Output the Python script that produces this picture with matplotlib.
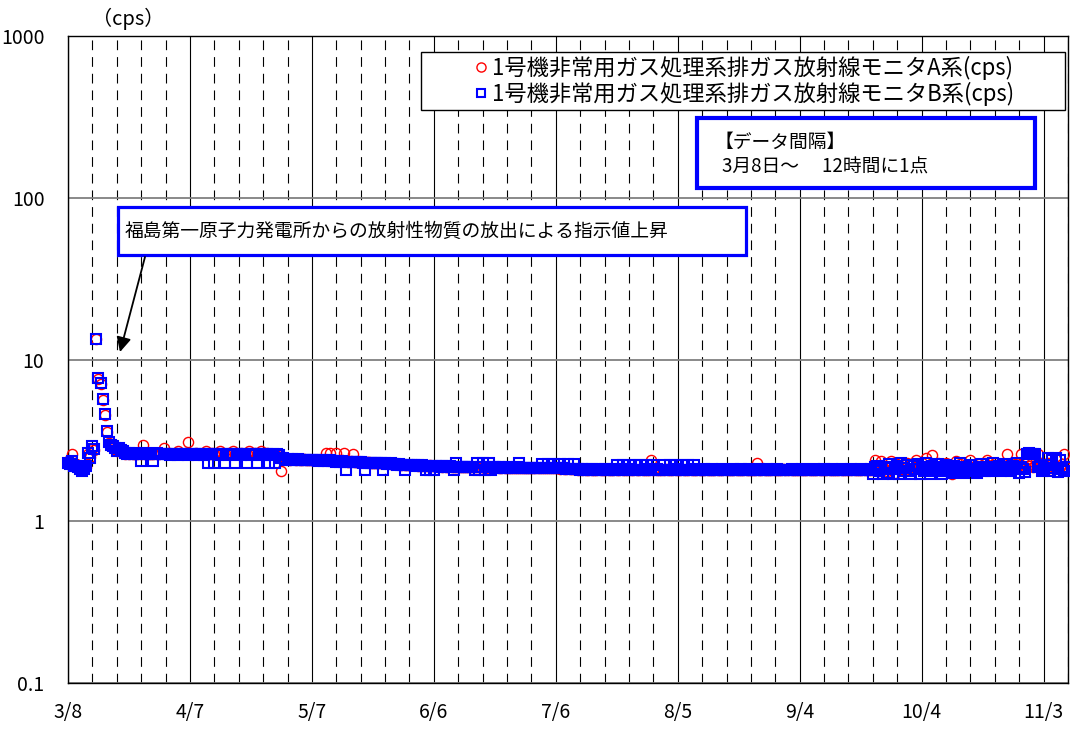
import datetime as dt
import matplotlib
matplotlib.use("Agg")
import matplotlib.pyplot as plt
import matplotlib.dates as mdates
from matplotlib.patches import Rectangle
from matplotlib.ticker import FixedLocator, FixedFormatter, NullLocator

plt.rcParams["font.family"] = ["Noto Sans CJK JP", "DejaVu Sans"]
plt.rcParams["lines.scale_dashes"] = False

# ---- data: 12-hour readings starting 2011-03-08 00:00 (cps) ----
start = dt.datetime(2011, 3, 8)

a_mar = [2.35, 2.30, 2.60, 2.30, 2.25, 2.20, 2.15, 2.15, 2.10, 2.15,
         2.60, 2.50, 2.80, 2.75, 13.3, 7.60, 7.10, 5.60, 4.55, 3.55,
         3.05, 2.90, 2.85, 2.80, 2.70, 2.80, 2.70, 2.65, 2.60, 2.65,
         2.60, 2.65, 2.60, 2.60, 2.60, 2.65, 2.60, 2.95, 2.60, 2.65,
         2.60, 2.60, 2.60, 2.65, 2.60, 2.60, 2.65, 2.85]
b_mar = [2.30, 2.25, 2.35, 2.20, 2.20, 2.15, 2.10, 2.05, 2.10, 2.20,
         2.65, 2.45, 2.90, 2.80, 13.4, 7.70, 7.20, 5.70, 4.60, 3.60,
         3.10, 2.95, 2.90, 2.85, 2.70, 2.85, 2.75, 2.70, 2.65, 2.60,
         2.65, 2.60, 2.60, 2.65, 2.60, 2.60, 2.35, 2.60, 2.65, 2.60,
         2.60, 2.60, 2.35, 2.60, 2.65, 2.60, 2.60, 2.60]

a_apr = [2.62, 2.65, 2.62, 2.60, 2.62, 2.65, 2.70, 2.62, 2.60, 2.62,
         2.65, 3.10, 2.62, 2.60, 2.62, 2.65, 2.62, 2.60, 2.62, 2.62,
         2.70, 2.62, 2.60, 2.65, 2.62, 2.60, 2.62, 2.70, 2.62, 2.60,
         2.62, 2.65, 2.62, 2.70, 2.60, 2.62, 2.62, 2.65, 2.62, 2.60,
         2.62, 2.70, 2.62, 2.60, 2.65, 2.62, 2.62, 2.70, 2.60, 2.62,
         2.65, 2.62, 2.60, 2.62, 2.60, 2.62, 2.60, 2.05, 2.50, 2.45]
b_apr = [2.60, 2.60, 2.55, 2.60, 2.60, 2.60, 2.55, 2.60, 2.60, 2.60,
         2.60, 2.55, 2.60, 2.60, 2.60, 2.55, 2.60, 2.60, 2.60, 2.55,
         2.60, 2.30, 2.60, 2.60, 2.30, 2.60, 2.55, 2.60, 2.60, 2.30,
         2.60, 2.55, 2.60, 2.60, 2.30, 2.60, 2.60, 2.55, 2.60, 2.60,
         2.30, 2.60, 2.55, 2.60, 2.60, 2.28, 2.60, 2.60, 2.55, 2.60,
         2.60, 2.28, 2.55, 2.60, 2.30, 2.60, 2.55, 2.45, 2.45, 2.40]

a_may = [2.42, 2.40, 2.42, 2.42, 2.40, 2.42, 2.40, 2.40, 2.42, 2.40,
         2.40, 2.40, 2.38, 2.40, 2.38, 2.38, 2.40, 2.38, 2.38, 2.65,
         2.38, 2.65, 2.38, 2.36, 2.65, 2.36, 2.36, 2.38, 2.65, 2.36,
         2.34, 2.36, 2.62, 2.34, 2.34, 2.32, 2.34, 2.32, 2.32, 2.32,
         2.32, 2.30, 2.30, 2.30, 2.30, 2.28, 2.30, 2.28, 2.28, 2.28,
         2.28, 2.26, 2.28, 2.26, 2.26, 2.26, 2.24, 2.26, 2.24, 2.24,
         2.24, 2.24]
b_may = [2.42, 2.40, 2.42, 2.40, 2.40, 2.42, 2.40, 2.38, 2.40, 2.40,
         2.38, 2.40, 2.38, 2.40, 2.38, 2.36, 2.38, 2.40, 2.36, 2.38,
         2.36, 2.38, 2.36, 2.36, 2.34, 2.36, 2.34, 2.36, 2.34, 2.06,
         2.34, 2.32, 2.34, 2.32, 2.32, 2.32, 2.32, 2.30, 2.06, 2.30,
         2.30, 2.30, 2.30, 2.28, 2.30, 2.28, 2.28, 2.06, 2.28, 2.26,
         2.26, 2.28, 2.26, 2.26, 2.24, 2.26, 2.24, 2.24, 2.06, 2.24,
         2.24, 2.22]

a_jun = [2.22, 2.22, 2.20, 2.22, 2.20, 2.22, 2.20, 2.20, 2.22, 2.20,
         2.20, 2.20, 2.18, 2.20, 2.18, 2.20, 2.18, 2.18, 2.20, 2.18,
         2.18, 2.18, 2.16, 2.18, 2.18, 2.16, 2.18, 2.16, 2.16, 2.18,
         2.16, 2.16, 2.18, 2.16, 2.16, 2.14, 2.16, 2.16, 2.14, 2.16,
         2.14, 2.16, 2.14, 2.14, 2.16, 2.14, 2.14, 2.14, 2.12, 2.14,
         2.14, 2.12, 2.14, 2.12, 2.14, 2.12, 2.12, 2.14, 2.12, 2.12]
b_jun = [2.22, 2.20, 2.22, 2.20, 2.22, 2.20, 2.08, 2.20, 2.08, 2.20,
         2.08, 2.20, 2.20, 2.18, 2.20, 2.18, 2.20, 2.18, 2.20, 2.18,
         2.08, 2.28, 2.18, 2.18, 2.16, 2.18, 2.18, 2.16, 2.18, 2.16,
         2.08, 2.28, 2.08, 2.16, 2.28, 2.08, 2.16, 2.30, 2.08, 2.16,
         2.16, 2.14, 2.16, 2.14, 2.16, 2.14, 2.14, 2.16, 2.14, 2.14,
         2.14, 2.16, 2.28, 2.14, 2.14, 2.12, 2.14, 2.12, 2.14, 2.12]

a_jul = [2.12, 2.12, 2.14, 2.12, 2.12, 2.12, 2.14, 2.12, 2.12, 2.12,
         2.12, 2.12, 2.10, 2.12, 2.10, 2.10, 2.12, 2.10, 2.10, 2.10,
         2.10, 2.08, 2.10, 2.08, 2.10, 2.08, 2.08, 2.10, 2.08, 2.08,
         2.08, 2.10, 2.08, 2.08, 2.08, 2.10, 2.08, 2.08, 2.08, 2.10,
         2.08, 2.08, 2.10, 2.08, 2.08, 2.08, 2.10, 2.08, 2.08, 2.10,
         2.08, 2.08, 2.10, 2.08, 2.08, 2.08, 2.08, 2.38, 2.08, 2.10,
         2.08, 2.08]
b_jul = [2.12, 2.14, 2.12, 2.26, 2.12, 2.14, 2.26, 2.12, 2.12, 2.26,
         2.12, 2.12, 2.26, 2.12, 2.12, 2.10, 2.26, 2.10, 2.10, 2.26,
         2.10, 2.10, 2.08, 2.10, 2.08, 2.10, 2.08, 2.08, 2.10, 2.08,
         2.08, 2.10, 2.08, 2.08, 2.10, 2.08, 2.08, 2.10, 2.08, 2.08,
         2.24, 2.08, 2.10, 2.24, 2.08, 2.08, 2.24, 2.10, 2.08, 2.24,
         2.08, 2.08, 2.24, 2.08, 2.10, 2.24, 2.08, 2.08, 2.24, 2.08,
         2.10, 2.08]

a_aug = [2.08, 2.08, 2.10, 2.08, 2.08, 2.08, 2.10, 2.08, 2.08, 2.08,
         2.10, 2.08, 2.08, 2.08, 2.10, 2.08, 2.08, 2.08, 2.10, 2.08,
         2.08, 2.08, 2.10, 2.08, 2.08, 2.08, 2.08, 2.10, 2.08, 2.08,
         2.08, 2.10, 2.08, 2.08, 2.08, 2.08, 2.10, 2.08, 2.08, 2.08,
         2.08, 2.10, 2.08, 2.08, 2.08, 2.08, 2.08, 2.30, 2.08, 2.08,
         2.10, 2.08, 2.08, 2.08, 2.08, 2.10, 2.08, 2.08, 2.08, 2.08,
         2.10, 2.08]
b_aug = [2.08, 2.24, 2.08, 2.08, 2.24, 2.08, 2.10, 2.24, 2.08, 2.08,
         2.24, 2.08, 2.08, 2.24, 2.08, 2.10, 2.24, 2.08, 2.08, 2.08,
         2.08, 2.10, 2.08, 2.08, 2.08, 2.10, 2.08, 2.08, 2.08, 2.08,
         2.10, 2.08, 2.08, 2.08, 2.08, 2.10, 2.08, 2.08, 2.08, 2.10,
         2.08, 2.08, 2.08, 2.10, 2.08, 2.08, 2.08, 2.08, 2.10, 2.08,
         2.08, 2.08, 2.10, 2.08, 2.08, 2.08, 2.08, 2.10, 2.08, 2.08,
         2.08, 2.08]

a_sep = [2.08, 2.10, 2.08, 2.08, 2.08, 2.08, 2.10, 2.08, 2.08, 2.08,
         2.10, 2.08, 2.08, 2.08, 2.08, 2.10, 2.08, 2.08, 2.08, 2.08,
         2.10, 2.08, 2.08, 2.08, 2.08, 2.08, 2.10, 2.08, 2.08, 2.08,
         2.08, 2.08, 2.10, 2.08, 2.08, 2.08, 2.08, 2.10, 2.08, 2.08,
         2.08, 2.08, 2.10, 2.38, 2.15, 2.05, 2.35, 2.12, 2.20, 2.05,
         2.15, 2.35, 2.10, 2.00, 2.25, 2.15, 2.10, 2.22, 2.05, 2.30]
b_sep = [2.08, 2.08, 2.10, 2.08, 2.08, 2.08, 2.08, 2.10, 2.08, 2.08,
         2.08, 2.08, 2.08, 2.10, 2.08, 2.08, 2.08, 2.08, 2.10, 2.08,
         2.08, 2.08, 2.10, 2.08, 2.08, 2.08, 2.08, 2.10, 2.08, 2.08,
         2.08, 2.10, 2.08, 2.08, 2.08, 2.08, 2.10, 2.08, 2.08, 2.08,
         2.08, 2.10, 1.95, 2.15, 2.20, 2.05, 2.10, 1.95, 2.12, 2.00,
         2.25, 2.15, 1.95, 2.10, 2.20, 1.97, 2.28, 2.12, 2.05, 2.22]

a_oct = [2.10, 2.25, 2.15, 2.38, 2.20, 2.12, 2.30, 2.15, 2.45, 2.20,
         2.15, 2.55, 2.20, 2.10, 2.30, 2.15, 2.22, 2.12, 2.28, 2.15,
         2.10, 1.95, 2.20, 2.35, 2.12, 2.25, 2.15, 2.10, 2.22, 2.15,
         2.38, 2.12, 2.20, 2.15, 2.25, 2.10, 2.18, 2.28, 2.38, 2.15,
         2.12, 2.22, 2.30, 2.15, 2.20, 2.12, 2.25, 2.18, 2.62, 2.15,
         2.20, 2.12, 2.25, 2.15, 2.22, 2.62, 2.18, 2.15, 2.30, 2.20,
         2.25, 2.15]
b_oct = [2.05, 1.95, 2.20, 2.10, 2.25, 1.95, 2.15, 2.05, 2.28, 2.10,
         1.97, 2.20, 2.12, 2.05, 2.25, 2.10, 1.95, 2.15, 2.22, 2.05,
         2.10, 1.98, 2.20, 2.12, 2.05, 2.28, 2.10, 1.98, 2.15, 2.05,
         2.22, 2.10, 2.05, 1.98, 2.15, 2.25, 2.10, 2.05, 2.18, 2.12,
         2.05, 2.28, 2.10, 2.15, 2.20, 2.05, 2.12, 2.25, 2.10, 2.15,
         2.05, 2.20, 2.12, 2.28, 2.00, 2.15, 2.10, 2.02, 2.62, 2.65,
         2.60, 2.62]

a_nov = [2.20, 2.62, 2.15, 2.20, 2.25, 2.15, 2.30, 2.12, 2.25, 2.15,
         2.20, 2.12, 2.18, 2.25, 2.62, 2.15]
b_nov = [2.62, 2.15, 2.20, 2.05, 2.10, 2.22, 2.45, 2.05, 2.40, 2.12,
         2.45, 2.02, 2.40, 2.10, 2.05, 2.15]

series_a = a_mar + a_apr + a_may + a_jun + a_jul + a_aug + a_sep + a_oct + a_nov
series_b = b_mar + b_apr + b_may + b_jun + b_jul + b_aug + b_sep + b_oct + b_nov

label_a = "1号機非常用ガス処理系排ガス放射線モニタA系(cps)"
label_b = "1号機非常用ガス処理系排ガス放射線モニタB系(cps)"

x_tick_labels = ["3/8", "4/7", "5/7", "6/6", "7/6", "8/5", "9/4", "10/4", "11/3"]
y_tick_values = [0.1, 1, 10, 100, 1000]
y_tick_labels = ["0.1", "1", "10", "100", "1000"]

times = [start + dt.timedelta(hours=12 * i) for i in range(len(series_a))]

# ---- figure ----
W, H = 1070, 729
fig = plt.figure(figsize=(W / 100, H / 100), dpi=100)
ax = fig.add_axes([68 / W, 1 - 683 / H, 1000 / W, 647 / H])

ax.set_yscale("log")
ax.set_ylim(0.1, 1000)
ax.set_xlim(start, start + dt.timedelta(days=246))

major = [start + dt.timedelta(days=30 * k) for k in range(len(x_tick_labels))]
minor = [start + dt.timedelta(days=6 * k) for k in range(42) if (6 * k) % 30 != 0]
ax.xaxis.set_major_locator(FixedLocator(mdates.date2num(major)))
ax.xaxis.set_major_formatter(FixedFormatter(x_tick_labels))
ax.xaxis.set_minor_locator(FixedLocator(mdates.date2num(minor)))
ax.yaxis.set_major_locator(FixedLocator(y_tick_values))
ax.yaxis.set_major_formatter(FixedFormatter(y_tick_labels))
ax.yaxis.set_minor_locator(NullLocator())

ax.set_axisbelow(True)
ax.grid(which="major", axis="x", color="black", lw=0.8, ls="-")
ax.grid(which="minor", axis="x", color="black", lw=0.8, ls=(0, (7, 5)))
ax.grid(which="major", axis="y", color="#808080", lw=1.3, ls="-")

ax.tick_params(which="both", length=0)
ax.tick_params(axis="x", pad=14, labelsize=14)
ax.tick_params(axis="y", pad=17, labelsize=14)
for s in ax.spines.values():
    s.set_color("black")
    s.set_linewidth(1.0)

ax.plot(times, series_a, ls="none", marker="o", ms=7.3, mfc="none",
        mec="#FF0000", mew=1.0, label=label_a, zorder=3, clip_on=False)
ax.plot(times, series_b, ls="none", marker="s", ms=6.6, mfc="none",
        mec="#0000FF", mew=1.5, label=label_b, zorder=4, clip_on=False)


def fx(px):
    return (px - 68) / 1000


def fy(py):
    return (683 - py) / 647


# legend box
ax.add_patch(Rectangle((fx(421), fy(110)), fx(1065) - fx(421), fy(52) - fy(110),
                       transform=ax.transAxes, facecolor="white",
                       edgecolor="black", lw=1.0, zorder=5))
leg = ax.legend(loc="center", bbox_to_anchor=(fx(745), fy(81)), frameon=False,
                fontsize=16, handlelength=0.5, handletextpad=0.25,
                labelspacing=0.1, borderaxespad=0, markerscale=0.9)
leg.set_zorder(6)

# data interval note
ax.add_patch(Rectangle((fx(697), fy(188)), fx(1035) - fx(697), fy(118) - fy(188),
                       transform=ax.transAxes, facecolor="white",
                       edgecolor="#0000FF", lw=3.0, zorder=5))
ax.text(fx(715), fy(142), "【データ間隔】", transform=ax.transAxes,
        fontsize=13.5, va="center", ha="left", zorder=6)
ax.text(fx(722), fy(167), "3月8日～　 12時間に1点", transform=ax.transAxes,
        fontsize=13.5, va="center", ha="left", zorder=6)

# release annotation
ax.add_patch(Rectangle((fx(118), fy(255)), fx(746) - fx(118), fy(207) - fy(255),
                       transform=ax.transAxes, facecolor="white",
                       edgecolor="#0000FF", lw=2.3, zorder=5))
ax.text(fx(125), fy(231), "福島第一原子力発電所からの放射性物質の放出による指示値上昇",
        transform=ax.transAxes, fontsize=13.5, va="center", ha="left", zorder=6)
ax.annotate("", xy=(fx(120), fy(352)), xytext=(fx(145), fy(257)),
            xycoords="axes fraction", textcoords="axes fraction",
            arrowprops=dict(arrowstyle="-|>", color="black", lw=1.3,
                            mutation_scale=22, shrinkA=0, shrinkB=0),
            zorder=6)

fig.text(92 / W, 1 - 19 / H, "（cps）", fontsize=14.5, va="center", ha="left")

fig.savefig("out.png", dpi=100)
